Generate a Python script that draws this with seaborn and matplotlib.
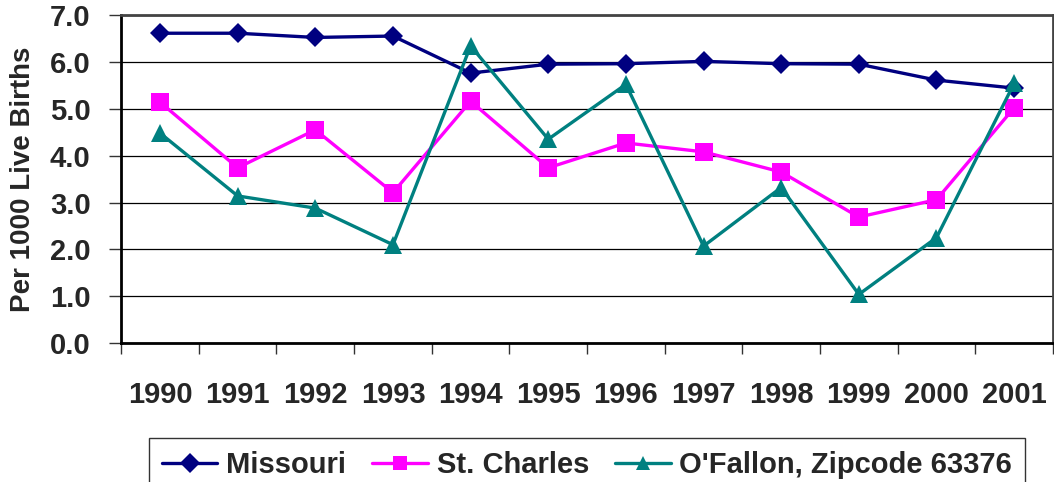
import matplotlib
matplotlib.use("Agg")
import matplotlib.pyplot as plt
from matplotlib.ticker import FormatStrFormatter
import seaborn as sns
import pandas as pd
import numpy as np

years = ["1990", "1991", "1992", "1993", "1994", "1995",
         "1996", "1997", "1998", "1999", "2000", "2001"]
missouri = [6.61, 6.61, 6.52, 6.55, 5.76, 5.95, 5.96, 6.01, 5.96, 5.95, 5.61, 5.44]
st_charles = [5.14, 3.74, 4.55, 3.21, 5.16, 3.74, 4.27, 4.08, 3.65, 2.69, 3.06, 5.02]
ofallon = [4.48, 3.14, 2.88, 2.10, 6.34, 4.35, 5.52, 2.07, 3.32, 1.04, 2.25, 5.54]
series_names = ["Missouri", "St. Charles", "O'Fallon, Zipcode 63376"]

rows = []
for name, vals in zip(series_names, [missouri, st_charles, ofallon]):
    for i, v in enumerate(vals):
        rows.append({"pos": i, "year": years[i], "rate": v, "area": name})
df = pd.DataFrame(rows)

sns.set_style("white")
plt.rcParams["font.family"] = ["Liberation Sans", "DejaVu Sans"]
plt.rcParams["font.weight"] = "bold"

palette = {"Missouri": "#000080", "St. Charles": "#FF00FF",
           "O'Fallon, Zipcode 63376": "#008080"}
markers = {"Missouri": "D", "St. Charles": "s", "O'Fallon, Zipcode 63376": "^"}

fig = plt.figure(figsize=(10.54, 4.82), dpi=100)
ax = fig.add_axes([0.115, 0.288, 0.884, 0.681])

sns.lineplot(data=df, x="pos", y="rate", hue="area", style="area",
             palette=palette, markers=markers, dashes=False, linewidth=2.4,
             markeredgewidth=0, ax=ax, legend=True)
for line in ax.lines:
    if line.get_marker() == "D":
        line.set_markersize(10)
    else:
        line.set_markersize(13)

ax.set_ylim(0, 7)
ax.set_yticks(np.arange(0, 8, 1))
ax.yaxis.set_major_formatter(FormatStrFormatter("%.1f"))
ax.set_xlim(-0.5, 11.5)
ax.set_xticks(np.arange(-0.5, 12, 1))
ax.set_xticklabels([])
ax.set_xticks(np.arange(12), minor=True)
ax.set_xticklabels(years, minor=True)
ax.tick_params(axis="x", which="major", bottom=True, direction="out",
               length=8, width=1, color="#333333")
ax.tick_params(axis="x", which="minor", bottom=True, length=0, pad=27, labelsize=21)
ax.tick_params(axis="y", left=True, direction="out", length=9, width=1,
               color="#333333", pad=13, labelsize=21)
for lab in ax.get_xticklabels(minor=True) + ax.get_yticklabels():
    lab.set_fontweight("bold")

ax.grid(axis="y", color="black", linewidth=0.9)
ax.set_axisbelow(True)
for side in ["left", "bottom"]:
    ax.spines[side].set_color("black")
    ax.spines[side].set_linewidth(2)
for side in ["top", "right"]:
    ax.spines[side].set_color("#444444")
    ax.spines[side].set_linewidth(2)

ax.set_xlabel("")
ax.set_ylabel("Per 1000 Live Births", fontsize=20, fontweight="bold", labelpad=10)

handles, labels = ax.get_legend_handles_labels()
if ax.legend_:
    ax.legend_.remove()
leg = fig.legend(handles, labels, loc="upper center", bbox_to_anchor=(0.557, 0.092),
                 ncol=3, frameon=True, fancybox=False,
                 prop={"weight": "bold", "size": 21}, handlelength=1.9,
                 handletextpad=0.3, columnspacing=0.9, borderpad=0.45,
                 borderaxespad=0)
leg.get_frame().set_edgecolor("black")
leg.get_frame().set_linewidth(1)
for h in leg.legend_handles:
    h.set_markersize(10)

fig.savefig("out.png", dpi=100)
